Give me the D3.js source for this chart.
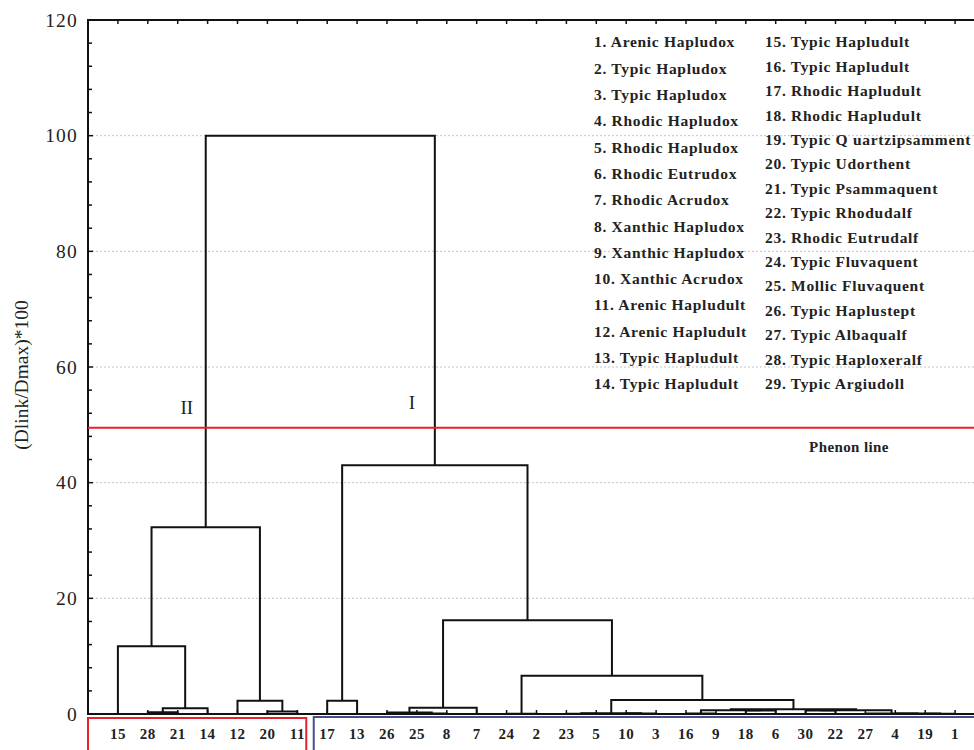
<!DOCTYPE html>
<html><head><meta charset="utf-8">
<script src="https://cdn.jsdelivr.net/npm/d3@7"></script>
<style>body{margin:0;background:#fff}svg{display:block}</style>
</head><body>
<script>
// ---------- data ----------
const leaves = ["15","28","21","14","12","20","11","17","13","26","25","8","7","24","2","23","5","10","3","16","9","18","6","30","22","27","4","19","1"];
// merges: [childA, childB, height]; "mK" refers to merge K
const merges = [
  ["28","21",0.3],      // m0
  ["m0","14",1.0],      // m1
  ["15","m1",11.7],     // m2
  ["20","11",0.45],     // m3
  ["12","m3",2.3],      // m4
  ["m2","m4",32.3],     // m5  cluster II
  ["17","13",2.3],      // m6
  ["25","8",0.1],       // m7
  ["26","m7",0.25],     // m8
  ["m8","7",1.1],       // m9
  ["24","2",0.05],      // m10
  ["23","5",0.05],      // m11
  ["10","3",0.08],      // m12
  ["m11","m12",0.15],   // m13
  ["16","9",0.1],       // m14
  ["18","6",0.6],       // m15
  ["m14","m15",0.65],   // m16
  ["30","22",0.6],      // m17
  ["19","1",0.05],      // m18
  ["4","m18",0.07],     // m19
  ["27","m19",0.1],     // m20
  ["m17","m20",0.65],   // m21
  ["m16","m21",0.8],    // m22
  ["m13","m22",2.4],    // m23
  ["m10","m23",6.6],    // m24
  ["m9","m24",16.2],    // m25
  ["m6","m25",43.0],    // m26  cluster I
  ["m5","m26",100.0]    // m27  root
];
const phenon = 49.5;
const yTicks = [0,20,40,60,80,100,120];
const gridVals = [20,40,60,80,100];
const legend1 = ["1. Arenic Hapludox","2. Typic Hapludox","3. Typic Hapludox","4. Rhodic Hapludox","5. Rhodic Hapludox","6. Rhodic Eutrudox","7. Rhodic Acrudox","8. Xanthic Hapludox","9. Xanthic Hapludox","10. Xanthic Acrudox","11. Arenic Hapludult","12. Arenic Hapludult","13. Typic Hapludult","14. Typic Hapludult"];
const legend2 = ["15. Typic Hapludult","16. Typic Hapludult","17. Rhodic Hapludult","18. Rhodic Hapludult","19. Typic Q uartzipsamment","20. Typic Udorthent","21. Typic Psammaquent","22. Typic Rhodudalf","23. Rhodic Eutrudalf","24. Typic Fluvaquent","25. Mollic Fluvaquent","26. Typic Haplustept","27. Typic Albaqualf","28. Typic Haploxeralf","29. Typic Argiudoll"];
const clusterLabels = [["II",5],["I",26]];

// ---------- layout ----------
const W=974,H=750;
const L=88,T=20,B=714,R=985;
const svg=d3.select("body").append("svg").attr("width",W).attr("height",H);
const x=d3.scaleLinear().domain([0,30]).range([L,R]);
const y=d3.scaleLinear().domain([0,120]).range([B,T]);
const serif="'Liberation Serif','Times New Roman',serif";

// grid
svg.append("g").selectAll("line").data(gridVals).join("line")
  .attr("x1",L).attr("x2",W).attr("y1",d=>y(d)).attr("y2",d=>y(d))
  .attr("stroke","#c4c4c4").attr("stroke-width",1).attr("stroke-dasharray","2,2");

// positions
const pos={};
leaves.forEach((l,i)=>pos[l]={x:x(i+1),h:0});
merges.forEach((m,k)=>{
  const a=pos[m[0]],b=pos[m[1]];
  pos["m"+k]={x:(a.x+b.x)/2,h:m[2],a,b};
});
const g=svg.append("g").attr("fill","none").attr("stroke","#111").attr("stroke-width",2);
merges.forEach((m,k)=>{
  const n=pos["m"+k];
  const p=d3.path();
  p.moveTo(n.a.x,y(n.a.h));p.lineTo(n.a.x,y(n.h));p.lineTo(n.b.x,y(n.h));p.lineTo(n.b.x,y(n.b.h));
  g.append("path").attr("d",p.toString());
});

// frame
svg.append("line").attr("x1",L).attr("x2",W).attr("y1",T).attr("y2",T).attr("stroke","#111").attr("stroke-width",2);
svg.append("line").attr("x1",L).attr("x2",L).attr("y1",T-1).attr("y2",B+1).attr("stroke","#111").attr("stroke-width",2);
svg.append("line").attr("x1",L).attr("x2",W).attr("y1",B).attr("y2",B).attr("stroke","#111").attr("stroke-width",2);

// y ticks
const minor=d3.range(0,121,4);
svg.append("g").selectAll("line").data(minor).join("line")
  .attr("x1",L).attr("x2",d=>L+(d%20===0?5:4)).attr("y1",d=>y(d)).attr("y2",d=>y(d))
  .attr("stroke","#111").attr("stroke-width",1.5);
svg.append("g").selectAll("text").data(yTicks).join("text")
  .attr("x",78).attr("y",d=>y(d)).attr("dy","0.35em").attr("text-anchor","end")
  .attr("font-family",serif).attr("font-size",19.5).attr("letter-spacing",1.2).attr("fill","#222").text(d=>d);
// top & bottom ticks at leaves
svg.append("g").selectAll("line").data(leaves).join("line")
  .attr("x1",(d,i)=>x(i+1)).attr("x2",(d,i)=>x(i+1)).attr("y1",T).attr("y2",T+4)
  .attr("stroke","#111").attr("stroke-width",1.5);
svg.append("g").selectAll("line").data(leaves).join("line")
  .attr("x1",(d,i)=>x(i+1)).attr("x2",(d,i)=>x(i+1)).attr("y1",B).attr("y2",B-4)
  .attr("stroke","#111").attr("stroke-width",1.5);

// y title
svg.append("text").attr("transform",`translate(28,${(T+B)/2+8}) rotate(-90)`)
  .attr("text-anchor","middle").attr("font-family",serif).attr("font-size",19.5).attr("fill","#222")
  .text("(Dlink/Dmax)*100");

// leaf labels
svg.append("g").selectAll("text").data(leaves).join("text")
  .attr("x",(d,i)=>x(i+1)).attr("y",739).attr("text-anchor","middle")
  .attr("font-family",serif).attr("font-weight","bold").attr("font-size",15).attr("letter-spacing",0.5).attr("fill","#222").text(d=>d);

// boxes under labels
svg.append("rect").attr("x",L).attr("y",718).attr("width",x(7.3)-L).attr("height",60)
  .attr("fill","none").attr("stroke","#e8222b").attr("stroke-width",2);
svg.append("rect").attr("x",x(7.55)).attr("y",717).attr("width",R-x(7.55)).attr("height",60)
  .attr("fill","none").attr("stroke","#4b4a8c").attr("stroke-width",2);

// phenon line
svg.append("line").attr("x1",L).attr("x2",W).attr("y1",y(phenon)).attr("y2",y(phenon))
  .attr("stroke","#e8222b").attr("stroke-width",2);
svg.append("text").attr("x",849).attr("y",y(phenon)+24).attr("text-anchor","middle")
  .attr("font-family",serif).attr("font-weight","bold").attr("font-size",15).attr("letter-spacing",0.4).attr("fill","#222").text("Phenon line");

// cluster labels
svg.append("g").selectAll("text").data(clusterLabels).join("text")
  .attr("x",d=>pos["m"+d[1]].x-(d[0]==="II"?19:23)).attr("y",d=>d[0]==="II"?414:409)
  .attr("text-anchor","middle").attr("font-family",serif).attr("font-size",19).attr("fill","#222").text(d=>d[0]);

// legend
const lg=svg.append("g").attr("font-family",serif).attr("font-weight","bold").attr("font-size",15.5).attr("fill","#222").attr("letter-spacing",0.7);
lg.selectAll("t1").data(legend1).join("text").attr("x",594).attr("y",(d,i)=>42+i*26.3).attr("dy","0.35em").text(d=>d);
lg.selectAll("t2").data(legend2).join("text").attr("x",765).attr("y",(d,i)=>42+i*24.4).attr("dy","0.35em").text(d=>d);
</script>
</body></html>
